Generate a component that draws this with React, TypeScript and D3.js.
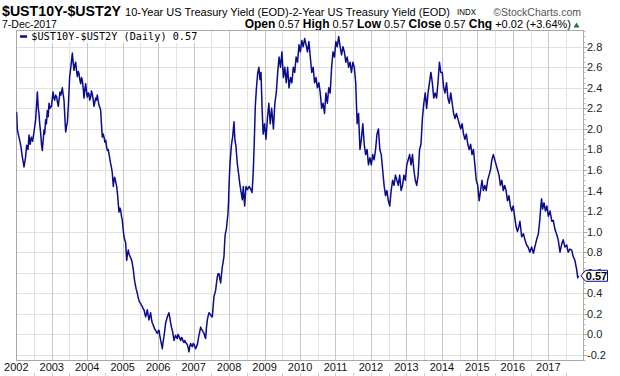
import React from "react";
import * as d3 from "d3";

// Decimal-year positions and 10Y-2Y spread values
const TIME: number[] = [
  2002.00, 2002.01, 2002.03, 2002.076, 2002.13, 2002.16, 2002.217, 2002.26, 2002.292, 2002.33,
  2002.358, 2002.39, 2002.424, 2002.46, 2002.499, 2002.546, 2002.593, 2002.62, 2002.64, 2002.66,
  2002.687, 2002.71, 2002.734, 2002.76, 2002.781, 2002.80, 2002.828, 2002.85, 2002.875, 2002.90,
  2002.922, 2002.95, 2002.988, 2003.01, 2003.035, 2003.06, 2003.082, 2003.11, 2003.138, 2003.16,
  2003.185, 2003.21, 2003.232, 2003.26, 2003.298, 2003.32, 2003.345, 2003.373, 2003.392, 2003.42,
  2003.439, 2003.467, 2003.505, 2003.53, 2003.551, 2003.58, 2003.60, 2003.627, 2003.65, 2003.674,
  2003.70, 2003.721, 2003.745, 2003.768, 2003.79, 2003.815, 2003.84, 2003.862, 2003.885, 2003.909,
  2003.93, 2003.956, 2003.98, 2004.003, 2004.03, 2004.05, 2004.07, 2004.097, 2004.12, 2004.143,
  2004.17, 2004.191, 2004.215, 2004.238, 2004.26, 2004.284, 2004.31, 2004.331, 2004.355, 2004.379,
  2004.40, 2004.425, 2004.45, 2004.473, 2004.50, 2004.52, 2004.545, 2004.566, 2004.59, 2004.613,
  2004.64, 2004.661, 2004.685, 2004.707, 2004.736, 2004.755, 2004.773, 2004.80, 2004.83, 2004.85,
  2004.867, 2004.895, 2004.92, 2004.943, 2004.965, 2004.989, 2005.01, 2005.036, 2005.06, 2005.083,
  2005.112, 2005.135, 2005.158, 2005.18, 2005.206, 2005.23, 2005.253, 2005.275, 2005.299, 2005.32,
  2005.346, 2005.38, 2005.412, 2005.435, 2005.459, 2005.48, 2005.506, 2005.53, 2005.553, 2005.575,
  2005.60, 2005.625, 2005.647, 2005.67, 2005.694, 2005.72, 2005.741, 2005.765, 2005.788, 2005.81,
  2005.835, 2005.86, 2005.882, 2005.905, 2005.929, 2005.955, 2005.976, 2006.00, 2006.023, 2006.045,
  2006.071, 2006.095, 2006.117, 2006.14, 2006.164, 2006.19, 2006.211, 2006.235, 2006.258, 2006.28,
  2006.305, 2006.33, 2006.352, 2006.375, 2006.399, 2006.42, 2006.446, 2006.47, 2006.493, 2006.515,
  2006.54, 2006.56, 2006.587, 2006.61, 2006.634, 2006.66, 2006.681, 2006.705, 2006.728, 2006.75,
  2006.775, 2006.80, 2006.822, 2006.845, 2006.869, 2006.89, 2006.916, 2006.94, 2006.963, 2006.985,
  2007.01, 2007.035, 2007.057, 2007.08, 2007.104, 2007.13, 2007.151, 2007.175, 2007.198, 2007.22,
  2007.245, 2007.27, 2007.292, 2007.315, 2007.339, 2007.36, 2007.386, 2007.41, 2007.433, 2007.455,
  2007.48, 2007.505, 2007.527, 2007.55, 2007.574, 2007.60, 2007.621, 2007.645, 2007.668, 2007.69,
  2007.715, 2007.74, 2007.762, 2007.785, 2007.809, 2007.83, 2007.856, 2007.87, 2007.884, 2007.90,
  2007.922, 2007.945, 2007.969, 2007.985, 2007.997, 2008.01, 2008.025, 2008.045, 2008.063, 2008.08,
  2008.10, 2008.12, 2008.138, 2008.152, 2008.166, 2008.18, 2008.194, 2008.213, 2008.232, 2008.255,
  2008.279, 2008.30, 2008.326, 2008.35, 2008.373, 2008.387, 2008.401, 2008.42, 2008.439, 2008.457,
  2008.476, 2008.50, 2008.523, 2008.545, 2008.57, 2008.595, 2008.617, 2008.645, 2008.665, 2008.683,
  2008.711, 2008.739, 2008.767, 2008.805, 2008.84, 2008.87, 2008.90, 2008.93, 2008.96, 2009.00,
  2009.04, 2009.08, 2009.12, 2009.16, 2009.20, 2009.25, 2009.29, 2009.33, 2009.37, 2009.41,
  2009.45, 2009.49, 2009.53, 2009.57, 2009.61, 2009.65, 2009.69, 2009.73, 2009.77, 2009.81,
  2009.85, 2009.89, 2009.93, 2009.97, 2010.01, 2010.05, 2010.09, 2010.13, 2010.17, 2010.21,
  2010.25, 2010.29, 2010.33, 2010.37, 2010.41, 2010.45, 2010.49, 2010.53, 2010.57, 2010.61,
  2010.65, 2010.69, 2010.73, 2010.77, 2010.81, 2010.85, 2010.89, 2010.93, 2010.97, 2011.01,
  2011.05, 2011.09, 2011.13, 2011.17, 2011.21, 2011.25, 2011.29, 2011.33, 2011.37, 2011.41,
  2011.45, 2011.49, 2011.53, 2011.57, 2011.61, 2011.65, 2011.69, 2011.73, 2011.77, 2011.81,
  2011.85, 2011.89, 2011.93, 2011.97, 2012.01, 2012.05, 2012.09, 2012.13, 2012.17, 2012.21,
  2012.25, 2012.29, 2012.33, 2012.37, 2012.41, 2012.45, 2012.49, 2012.53, 2012.57, 2012.61,
  2012.65, 2012.69, 2012.73, 2012.77, 2012.81, 2012.85, 2012.89, 2012.93, 2012.97, 2013.01,
  2013.05, 2013.09, 2013.13, 2013.17, 2013.21, 2013.25, 2013.29, 2013.33, 2013.37, 2013.41,
  2013.45, 2013.49, 2013.53, 2013.57, 2013.61, 2013.65, 2013.69, 2013.73, 2013.77, 2013.81,
  2013.85, 2013.89, 2013.93, 2013.97, 2014.01, 2014.05, 2014.09, 2014.13, 2014.17, 2014.21,
  2014.25, 2014.29, 2014.33, 2014.37, 2014.41, 2014.45, 2014.49, 2014.53, 2014.57, 2014.61,
  2014.65, 2014.69, 2014.73, 2014.77, 2014.81, 2014.85, 2014.89, 2014.93, 2014.97, 2015.01,
  2015.05, 2015.09, 2015.13, 2015.17, 2015.21, 2015.25, 2015.29, 2015.33, 2015.37, 2015.41,
  2015.45, 2015.49, 2015.53, 2015.57, 2015.61, 2015.65, 2015.69, 2015.73, 2015.77, 2015.81,
  2015.85, 2015.89, 2015.93, 2015.97, 2016.01, 2016.05, 2016.09, 2016.13, 2016.17, 2016.20,
  2016.25, 2016.30, 2016.34, 2016.39, 2016.43, 2016.48, 2016.53, 2016.58, 2016.62, 2016.67,
  2016.72, 2016.76, 2016.79, 2016.81, 2016.84, 2016.88, 2016.92, 2016.96, 2017.00, 2017.05,
  2017.10, 2017.14, 2017.19, 2017.24, 2017.28, 2017.33, 2017.38, 2017.42, 2017.47, 2017.52,
  2017.56, 2017.61, 2017.66, 2017.70, 2017.75, 2017.80, 2017.83, 2017.85,
];

const SPREAD: number[] = [
  2.10, 2.16, 1.99, 1.92, 1.83, 1.75, 1.63, 1.72, 1.84, 1.80,
  1.94, 1.85, 1.92, 1.88, 1.97, 2.09, 2.36, 2.20, 2.15, 2.05,
  1.96, 1.85, 1.79, 1.90, 1.99, 1.95, 2.09, 2.05, 2.18, 2.12,
  2.25, 2.20, 2.22, 2.28, 2.36, 2.30, 2.28, 2.33, 2.31, 2.26,
  2.22, 2.30, 2.36, 2.33, 2.40, 2.34, 2.28, 2.09, 1.97, 2.03,
  2.06, 2.22, 2.51, 2.58, 2.64, 2.74, 2.66, 2.57, 2.62, 2.65,
  2.56, 2.51, 2.56, 2.54, 2.48, 2.44, 2.50, 2.47, 2.40, 2.30,
  2.38, 2.44, 2.36, 2.31, 2.35, 2.34, 2.28, 2.31, 2.37, 2.34,
  2.28, 2.22, 2.26, 2.30, 2.28, 2.33, 2.27, 2.23, 2.21, 2.18,
  2.05, 1.92, 1.95, 1.92, 1.87, 1.89, 1.83, 1.79, 1.80, 1.76,
  1.70, 1.66, 1.62, 1.57, 1.44, 1.50, 1.53, 1.49, 1.44, 1.38,
  1.31, 1.19, 1.23, 1.21, 1.15, 1.11, 1.03, 0.95, 0.92, 0.89,
  0.72, 0.78, 0.82, 0.78, 0.76, 0.74, 0.72, 0.68, 0.63, 0.56,
  0.50, 0.44, 0.40, 0.36, 0.33, 0.31, 0.30, 0.28, 0.27, 0.25,
  0.24, 0.20, 0.17, 0.20, 0.24, 0.18, 0.14, 0.18, 0.21, 0.15,
  0.11, 0.09, 0.07, 0.05, 0.04, 0.02, 0.01, 0.03, 0.04, -0.01,
  -0.06, -0.10, -0.14, -0.07, -0.02, 0.05, 0.11, 0.14, 0.17, 0.19,
  0.21, 0.16, 0.11, 0.07, 0.04, 0.00, -0.06, -0.03, -0.01, -0.03,
  -0.04, 0.00, -0.02, -0.04, -0.06, -0.03, -0.04, -0.07, -0.08, -0.06,
  -0.08, -0.09, -0.10, -0.13, -0.17, -0.12, -0.09, -0.11, -0.12, -0.09,
  -0.10, -0.12, -0.14, -0.12, -0.10, -0.05, -0.01, 0.03, 0.07, 0.05,
  0.04, 0.02, 0.01, -0.02, -0.04, 0.06, 0.14, 0.18, 0.21, 0.20,
  0.19, 0.17, 0.17, 0.27, 0.37, 0.40, 0.43, 0.50, 0.56, 0.59,
  0.59, 0.54, 0.50, 0.58, 0.66, 0.70, 0.76, 0.86, 0.95, 0.99,
  1.02, 1.10, 1.18, 1.30, 1.44, 1.55, 1.66, 1.75, 1.83, 1.88,
  1.92, 2.00, 2.07, 1.97, 1.89, 1.86, 1.83, 1.74, 1.66, 1.60,
  1.53, 1.47, 1.41, 1.36, 1.31, 1.38, 1.44, 1.33, 1.25, 1.35,
  1.44, 1.42, 1.41, 1.43, 1.44, 1.42, 1.41, 1.38, 1.48, 1.60,
  1.89, 2.22, 2.38, 2.54, 2.60, 2.48, 2.55, 2.20, 1.95, 2.05,
  1.90, 2.10, 2.25, 2.05, 2.20, 2.00, 2.25, 2.35, 2.55, 2.70,
  2.60, 2.75, 2.50, 2.60, 2.45, 2.60, 2.40, 2.50, 2.45, 2.60,
  2.55, 2.70, 2.65, 2.82, 2.75, 2.86, 2.80, 2.88, 2.82, 2.75,
  2.85, 2.70, 2.55, 2.60, 2.45, 2.50, 2.40, 2.45, 2.35, 2.20,
  2.25, 2.15, 2.35, 2.25, 2.40, 2.35, 2.60, 2.75, 2.70, 2.85,
  2.80, 2.90, 2.80, 2.72, 2.80, 2.75, 2.65, 2.70, 2.60, 2.65,
  2.55, 2.65, 2.60, 2.45, 2.05, 2.15, 1.80, 1.90, 2.05, 1.85,
  1.75, 1.80, 1.65, 1.72, 1.65, 1.75, 1.70, 1.80, 1.95, 2.00,
  1.80, 1.75, 1.60, 1.45, 1.35, 1.40, 1.30, 1.25, 1.40, 1.50,
  1.45, 1.55, 1.50, 1.45, 1.55, 1.40, 1.45, 1.55, 1.50, 1.65,
  1.70, 1.75, 1.65, 1.75, 1.60, 1.50, 1.45, 1.55, 1.80, 1.85,
  2.10, 2.25, 2.35, 2.20, 2.35, 2.45, 2.55, 2.45, 2.30, 2.35,
  2.30, 2.45, 2.65, 2.55, 2.55, 2.40, 2.35, 2.45, 2.30, 2.25,
  2.35, 2.25, 2.15, 2.10, 2.15, 2.10, 2.05, 2.00, 2.05, 1.95,
  1.90, 1.95, 1.85, 1.80, 1.85, 1.75, 1.80, 1.65, 1.50, 1.45,
  1.30, 1.40, 1.50, 1.40, 1.45, 1.40, 1.50, 1.55, 1.60, 1.70,
  1.75, 1.70, 1.65, 1.60, 1.55, 1.45, 1.50, 1.40, 1.45, 1.40,
  1.30, 1.35, 1.25, 1.20, 1.25, 1.15, 1.05, 1.00, 1.05, 1.10,
  0.95, 0.98, 0.92, 0.87, 0.85, 0.80, 0.85, 0.79, 0.85, 0.92,
  0.98, 1.11, 1.25, 1.32, 1.22, 1.28, 1.20, 1.25, 1.15, 1.20,
  1.10, 1.11, 1.02, 0.97, 0.92, 0.80, 0.88, 0.92, 0.85, 0.87,
  0.80, 0.83, 0.82, 0.76, 0.72, 0.63, 0.55, 0.57,
];

const Y_TICKS: number[] = [-0.2, 0, 0.2, 0.4, 0.6, 0.8, 1.0, 1.2, 1.4, 1.6, 1.8, 2.0, 2.2, 2.4, 2.6, 2.8];
const X_YEARS: number[] = [2002, 2003, 2004, 2005, 2006, 2007, 2008, 2009, 2010, 2011, 2012, 2013, 2014, 2015, 2016, 2017];
const LAST_VALUE = 0.57;

const W = 620;
const H = 376;
const PL = 16.3;
const PR = 582.7;
const PT = 30;
const PB = 360;
const NAVY = "#0b0b8f";

export default function App() {
  const x = d3.scaleLinear().domain([2002, 2017.97]).range([PL, PR]);
  const y = d3.scaleLinear().domain([-0.25, 2.963]).range([PB, PT]);
  const data: [number, number][] = TIME.map((t, i) => [t, SPREAD[i]]);
  const line = d3
    .line<[number, number]>()
    .x((d) => x(d[0]))
    .y((d) => y(d[1]));

  const px = (v: number) => Math.round(v) + 0.5;
  const halfYears = d3.range(2002.5, 2018, 1);
  const minorTicks = d3.range(-0.25, 2.96, 0.05);
  const yLast = y(LAST_VALUE);

  const left = px(PL);
  const right = px(PR);
  const top = px(PT);
  const bottom = px(PB);

  return (
    <svg
      width={W}
      height={H}
      style={{ position: "fixed", left: 0, top: 0, background: "#fff" }}
      fontFamily="'Liberation Sans', Arial, sans-serif"
    >
      <rect x={0} y={0} width={W} height={H} fill="#fff" />
      {/* header */}
      <text
        x={2}
        y={15.5}
        fontSize={15.5}
        fontWeight="bold"
        fontFamily="'Liberation Sans Narrow', 'Arial Narrow', 'Liberation Sans', Arial"
        textLength={119}
        lengthAdjust="spacingAndGlyphs"
        fill="#000"
      >
        $UST10Y-$UST2Y
      </text>
      <text x={125} y={15.5} fontSize={11} textLength={325} lengthAdjust="spacingAndGlyphs" fill="#000">
        10-Year US Treasury Yield (EOD)-2-Year US Treasury Yield (EOD)
      </text>
      <text x={457} y={15} fontSize={8.5} textLength={19} lengthAdjust="spacingAndGlyphs" fill="#000">
        INDX
      </text>
      <text x={581} y={15.5} fontSize={10.5} textAnchor="end" fill="#555">
        ©StockCharts.com
      </text>
      <text x={2} y={28} fontSize={10.5} fill="#000">
        7-Dec-2017
      </text>
      <text x={571} y={28} textAnchor="end" fill="#000">
        <tspan fontWeight="bold" fontSize={12}>Open</tspan>
        <tspan fontSize={11}> 0.57 </tspan>
        <tspan fontWeight="bold" fontSize={12}>High</tspan>
        <tspan fontSize={11}> 0.57 </tspan>
        <tspan fontWeight="bold" fontSize={12}>Low</tspan>
        <tspan fontSize={11}> 0.57 </tspan>
        <tspan fontWeight="bold" fontSize={12}>Close</tspan>
        <tspan fontSize={11}> 0.57 </tspan>
        <tspan fontWeight="bold" fontSize={12}>Chg</tspan>
        <tspan fontSize={11}> +0.02 (+3.64%)</tspan>
      </text>
      <path d="M573.5,27.5 L576.5,22.5 L579.5,27.5 Z" fill="#1f7a2e" />

      {/* grid */}
      {Y_TICKS.map((v) => (
        <line key={"h" + v} x1={left} x2={right} y1={px(y(v))} y2={px(y(v))} stroke="#e2e2e2" strokeWidth={1} />
      ))}
      {halfYears.map((t) => (
        <line key={"hv" + t} x1={px(x(t))} x2={px(x(t))} y1={top} y2={bottom} stroke="#e2e2e2" strokeWidth={1} />
      ))}
      {X_YEARS.slice(1).map((t) => (
        <line key={"yv" + t} x1={px(x(t))} x2={px(x(t))} y1={top} y2={bottom} stroke="#c6c6c6" strokeWidth={1} />
      ))}

      {/* frame */}
      <rect x={left} y={top} width={right - left} height={bottom - top} fill="none" stroke="#a8a8a8" strokeWidth={1} />

      {/* right axis ticks */}
      {minorTicks.map((v, i) => (
        <line key={"mt" + i} x1={right} x2={right + 2} y1={px(y(v))} y2={px(y(v))} stroke="#b8b8b8" strokeWidth={1} />
      ))}
      {Y_TICKS.map((v) => (
        <line key={"t" + v} x1={right} x2={right + 4} y1={px(y(v))} y2={px(y(v))} stroke="#a8a8a8" strokeWidth={1} />
      ))}
      {Y_TICKS.map((v) => (
        <text key={"yl" + v} x={587} y={y(v) + 4} fontSize={11} fill="#222">
          {v.toFixed(1)}
        </text>
      ))}

      {/* bottom axis */}
      {X_YEARS.map((t) => (
        <text key={"xl" + t} x={x(t)} y={370.5} fontSize={11} textAnchor="middle" fill="#111">
          {t}
        </text>
      ))}
      {halfYears.concat(X_YEARS.slice(1)).map((t) => (
        <line key={"bt" + t} x1={px(x(t))} x2={px(x(t))} y1={373} y2={376} stroke="#cccccc" strokeWidth={1} />
      ))}

      {/* series */}
      <defs>
        <clipPath id="plotclip">
          <rect x={PL} y={PT} width={PR - PL} height={PB - PT} />
        </clipPath>
      </defs>
      <path
        d={line(data) || ""}
        fill="none"
        stroke={NAVY}
        strokeWidth={1.5}
        strokeLinejoin="round"
        clipPath="url(#plotclip)"
      />

      {/* legend */}
      <rect x={17} y={31} width={182} height={12} fill="#fff" opacity={0.85} />
      <line x1={20} x2={27} y1={36.5} y2={36.5} stroke={NAVY} strokeWidth={2.5} />
      <text
        x={31.3}
        y={40}
        fontSize={10.3}
        fontFamily="'DejaVu Sans Mono', monospace"
        textLength={166}
        lengthAdjust="spacingAndGlyphs"
        fill="#000"
      >
        $UST10Y-$UST2Y (Daily) 0.57
      </text>

      {/* last value marker */}
      <path
        d={`M581,${yLast} L585.5,${yLast - 5.5} L607.5,${yLast - 5.5} L607.5,${yLast + 5.5} L585.5,${yLast + 5.5} Z`}
        fill="#fff"
        stroke={NAVY}
        strokeWidth={1}
      />
      <text x={596.5} y={yLast + 4} fontSize={11} fontWeight="bold" textAnchor="middle" fill="#000">
        {LAST_VALUE.toFixed(2)}
      </text>
    </svg>
  );
}
